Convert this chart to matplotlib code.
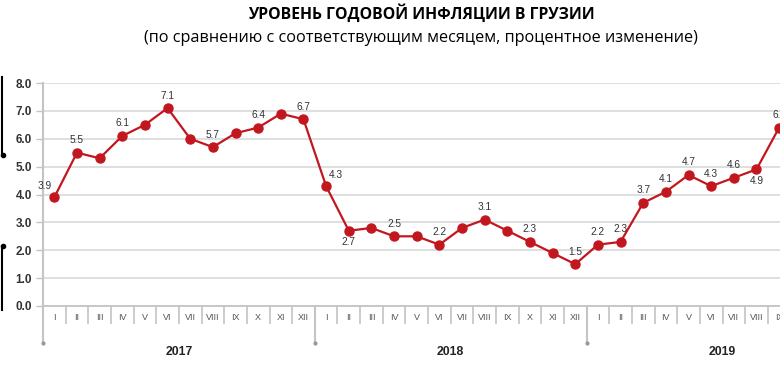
import matplotlib.pyplot as plt
import matplotlib.lines as mlines
import numpy as np

months = ['I', 'II', 'III', 'IV', 'V', 'VI', 'VII', 'VIII', 'IX', 'X', 'XI', 'XII']
years = ['2017', '2018', '2019']
inflation_2017 = [3.9, 5.5, 5.3, 6.1, 6.5, 7.1, 6.0, 5.7, 6.2, 6.4, 6.9, 6.7]
inflation_2018 = [4.3, 2.7, 2.8, 2.5, 2.5, 2.2, 2.8, 3.1, 2.7, 2.3, 1.9, 1.5]
inflation_2019 = [2.2, 2.3, 3.7, 4.1, 4.7, 4.3, 4.6, 4.9, 6.4]

values = inflation_2017 + inflation_2018 + inflation_2019
x = np.arange(len(values))
n_slots = len(years) * len(months)

# where each value label goes ('' = no label)
label_side = ['ul', 'a', '', 'a', '', 'a', '', 'a', '', 'a', '', 'a',
              'ur', 'b', '', 'a', '', 'a', '', 'a', '', 'a', '', 'a',
              'a', 'a', 'a', 'a', 'a', 'a', 'a', 'b', 'a']
offsets = {'a': (0, 9), 'b': (0, -8), 'ul': (-7, 8), 'ur': (7, 8)}

red = '#c2171f'
grid_c = '#dcdcdc'
axis_c = '#c4c4c4'

plt.rcParams['font.family'] = ['Liberation Sans', 'DejaVu Sans']

fig = plt.figure(figsize=(7.8, 3.71), dpi=100)
slot_px = 22.65
ax = fig.add_axes([43 / 780, 65 / 371, n_slots * slot_px / 780, 223 / 371])

ax.plot(x, values, color=red, lw=1.6, marker='o', ms=6.5, zorder=3, clip_on=False)

for xi, v, side in zip(x, values, label_side):
    if side:
        ax.annotate(f'{v:.1f}', (xi, v), xytext=offsets[side], textcoords='offset points',
                    ha='center', va='center', fontsize=7.3, color='#333333', zorder=4)

ax.set_xlim(-0.5, n_slots - 0.5)
ax.set_ylim(0, 8)
ax.set_yticks(np.arange(0, 8.1, 1))
ax.set_yticklabels([f'{t:.1f}' for t in np.arange(0, 8.1, 1)], fontsize=8.5,
                   fontweight='bold', color='#333333')
ax.grid(axis='y', color=grid_c, lw=1.3)
ax.set_axisbelow(True)
ax.tick_params(axis='y', length=5, width=1, color=axis_c, pad=3)

ax.set_xticks(np.arange(n_slots))
ax.set_xticklabels(months * len(years), fontsize=6.5, color='#555555')
ax.set_xticks(np.arange(n_slots + 1) - 0.5, minor=True)
ax.tick_params(axis='x', which='major', length=0, pad=5)
ax.tick_params(axis='x', which='minor', length=13, width=1.2, color=axis_c)

for s in ['top', 'right']:
    ax.spines[s].set_visible(False)
ax.spines['left'].set_color(axis_c)
ax.spines['left'].set_linewidth(1.5)
ax.spines['bottom'].set_color(axis_c)
ax.spines['bottom'].set_linewidth(1.3)

# long separators between years, with year names under them
drop = -37 / 223
for k, yr in enumerate(years):
    b = k * len(months) - 0.5
    ax.plot([b, b], [0, drop], transform=ax.get_xaxis_transform(), color=axis_c,
            lw=1.5, clip_on=False)
    ax.plot([b], [drop], 'o', transform=ax.get_xaxis_transform(), color='#999999',
            ms=2, clip_on=False)
    ax.text(b + len(months) / 2, -46 / 223, yr, transform=ax.get_xaxis_transform(),
            ha='center', va='center', fontsize=8.8, fontweight='bold', color='#222222')

# titles
fig.text(421 / 780, 1 - 14 / 371, 'УРОВЕНЬ ГОДОВОЙ ИНФЛЯЦИИ В ГРУЗИИ', ha='center',
         va='center', fontsize=11.3, fontweight='bold', family='Open Sans', color='black')
fig.text(421 / 780, 1 - 38 / 371,
         '(по сравнению с соответствующим месяцем, процентное изменение)',
         ha='center', va='center', fontsize=11.7, family='Open Sans', color='black')

# fragment of a bracket on the left edge
for y0, y1, ydot in [(77, 155, 155), (246, 310, 246)]:
    fig.add_artist(mlines.Line2D([1.5 / 780, 1.5 / 780], [1 - y0 / 371, 1 - y1 / 371],
                                 color='black', lw=1.5))
    fig.add_artist(mlines.Line2D([3 / 780], [1 - ydot / 371], marker='o', ms=3,
                                 color='black'))

fig.savefig('out.png', dpi=100)
